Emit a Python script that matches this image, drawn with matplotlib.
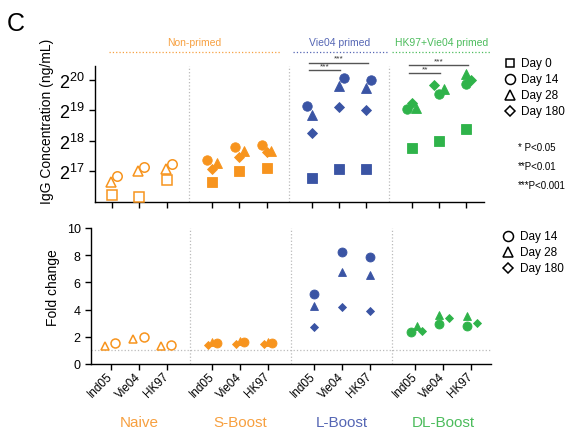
import numpy as np
import matplotlib
matplotlib.use("Agg")
import matplotlib.pyplot as plt
from matplotlib import font_manager
from matplotlib.lines import Line2D
from matplotlib.transforms import ScaledTranslation

plt.rcParams["font.family"] = ["Liberation Sans", "DejaVu Sans"]
plt.rcParams["mathtext.default"] = "regular"

nan = np.nan

strains = ["Ind05", "Vie04", "HK97"]
groups = ["Naive", "S-Boost", "L-Boost", "DL-Boost"]
group_colors = ["#F7941E", "#F7941E", "#3A54A4", "#2FB34A"]
label_colors = ["#F7A040", "#F7A040", "#5566B4", "#4CBC5C"]
filled = [False, True, True, True]

# IgG concentration (ng/mL), rows = groups, columns = strains
igg_day0 = [[76350, 72700, 107200],
            [102100, 133800, 140500],
            [114100, 137600, 137600],
            [225100, 258500, 346000]]
igg_day14 = [[117300, 146400, 156900],
             [168200, 229800, 236300],
             [582000, 1092600, 1048600],
             [542600, 762300, 958400]]
igg_day28 = [[102100, 133800, 137600],
             [160300, 210000, 210000],
             [475800, 912800, 875600],
             [554200, 852000, 1196400]]
igg_day180 = [[nan, nan, nan],
              [137600, 180400, 205700],
              [316100, 569900, 531600],
              [623400, 932200, 1048600]]

# fold change vs day 0
fold_day14 = [[1.52, 2.00, 1.40],
              [1.55, 1.60, 1.55],
              [5.15, 8.21, 7.87],
              [2.35, 2.92, 2.77]]
fold_day28 = [[1.35, 1.84, 1.30],
              [1.65, 1.72, 1.60],
              [4.24, 6.79, 6.54],
              [2.77, 3.60, 3.50]]
fold_day180 = [[nan, nan, nan],
               [1.40, 1.45, 1.50],
               [2.75, 4.19, 3.90],
               [2.43, 3.36, 3.01]]

# significance brackets: (group, strain from, strain to, stars)
sig_group = [2, 2, 3, 3]
sig_to = [1, 2, 1, 2]
sig_stars = ["***", "***", "**", "***"]
sig_level = [1300000, 1545000, 1223000, 1472000]

priming = ["Non-primed", "Vie04 primed", "HK97+Vie04 primed"]
priming_colors = ["#F7A040", "#5566B4", "#4CBC5C"]

# ---- layout (scatter offsets, like the prism column scatter) ----
GAP = 3.65
top_off = {
    "d0": [[0, 0, 0]] * 4,
    "d14": [[0.18, 0.18, 0.18], [-0.17, -0.17, -0.17], [-0.18, 0.18, 0.18], [-0.18, 0, 0]],
    "d28": [[-0.03, -0.03, -0.03], [0.18, 0.18, 0.18], [0, 0, 0], [0.15, 0.18, 0]],
    "d180": [[0, 0, 0], [0, 0, 0], [0, 0, 0], [0, -0.18, 0.18]],
}
bot_off = {
    "d14": [[0.15, 0.18, 0.15], [0.15, 0.15, 0.15], [0, 0, 0], [-0.15, -0.15, -0.15]],
    "d28": [[-0.2, -0.2, -0.2], [0, 0, 0], [0, 0, 0], [0.04, -0.15, -0.15]],
    "d180": [[-0.15] * 3, [-0.15] * 3, [0, 0, 0], [0.22, 0.22, 0.22]],
}
marker_style = {"d0": ("s", 7.2), "d14": ("o", 6.8), "d28": ("^", 6.8), "d180": ("D", 4.6)}


def xpos(g):
    return g * GAP + np.arange(3)


def scatter(ax, key, data, offsets, scale=1.0):
    m, ms = marker_style[key]
    for g in range(4):
        x = xpos(g) + np.array(offsets[g])
        y = np.array(data[g], dtype=float)
        c = group_colors[g]
        ax.plot(x, y, ls="none", marker=m, ms=ms * scale,
                mfc=c if filled[g] else "white", mec=c,
                mew=0.6 if filled[g] else 1.1, zorder=3)


fig = plt.figure(figsize=(5.66, 4.35), dpi=100)
W, H = 566, 435
ax1 = fig.add_axes([95 / W, 1 - 203 / H, 389 / W, 136 / H])
ax2 = fig.add_axes([91 / W, 1 - 365 / H, 400 / W, 136 / H])

all_x = np.concatenate([xpos(g) for g in range(4)])
seps = [2 + (GAP - 2) / 2 + g * GAP for g in range(3)]

# ---- top panel ----
scatter(ax1, "d0", igg_day0, top_off["d0"])
scatter(ax1, "d180", igg_day180, top_off["d180"])
scatter(ax1, "d28", igg_day28, top_off["d28"])
scatter(ax1, "d14", igg_day14, top_off["d14"])
ax1.set_yscale("log", base=2)
ax1.set_ylim(2 ** 16, 2 ** 20.45)
ax1.set_xlim(-0.62, 13.6)
ax1.set_yticks([2 ** 17, 2 ** 18, 2 ** 19, 2 ** 20])
ax1.set_yticklabels(["$2^{17}$", "$2^{18}$", "$2^{19}$", "$2^{20}$"], fontsize=13)
ax1.yaxis.set_minor_locator(plt.NullLocator())
ax1.set_xticks(all_x)
ax1.set_xticklabels([])
for s in seps:
    ax1.axvline(s, color="#BBBBBB", ls=":", lw=0.9, zorder=1)

for g, j, stars, lev in zip(sig_group, sig_to, sig_stars, sig_level):
    x0 = xpos(g)[0] - 0.08
    x1 = xpos(g)[j] + 0.05
    ax1.plot([x0, x1], [lev, lev], color="#555555", lw=1, clip_on=False)
    ax1.text((x0 + x1) / 2, lev * 1.02, stars, ha="center", va="bottom",
             fontsize=6, color="#333333", clip_on=False)

# ---- bottom panel ----
scatter(ax2, "d180", fold_day180, bot_off["d180"], 0.95)
scatter(ax2, "d28", fold_day28, bot_off["d28"], 0.95)
scatter(ax2, "d14", fold_day14, bot_off["d14"], 0.95)
ax2.set_ylim(0, 10)
ax2.set_xlim(-0.72, 13.67)
ax2.set_yticks([0, 2, 4, 6, 8, 10])
ax2.tick_params(axis="y", labelsize=9)
ax2.axhline(1, color="#BBBBBB", ls=":", lw=0.9, zorder=1)
for s in seps:
    ax2.axvline(s, color="#BBBBBB", ls=":", lw=0.9, zorder=1)
ax2.set_xticks(all_x)
ax2.set_xticklabels(strains * 4, rotation=45, ha="right", va="center",
                    rotation_mode="anchor", fontsize=8.5)
shift = ScaledTranslation(9 / 72, -6 / 72, fig.dpi_scale_trans)
for lab in ax2.get_xticklabels():
    lab.set_transform(lab.get_transform() + shift)

for ax in (ax1, ax2):
    ax.spines["top"].set_visible(False)
    ax.spines["right"].set_visible(False)
    ax.spines["left"].set_linewidth(1.0)
    ax.spines["bottom"].set_linewidth(1.0)
    ax.tick_params(direction="out", length=4, width=1)

# group labels below bottom panel
for g in range(4):
    xc = xpos(g)[1]
    ax2.text(xc, -0.426, groups[g], transform=ax2.get_xaxis_transform(),
             ha="center", va="center", fontsize=11, color=label_colors[g])

# axis titles
fig.text(47 / W, 1 - 121 / H, "IgG Concentration (ng/mL)", rotation=90,
         ha="center", va="center", fontsize=10)
fig.text(53 / W, 1 - 288 / H, "Fold change", rotation=90,
         ha="center", va="center", fontsize=10)
fig.text(7 / W, 1 - 31 / H, "C", fontsize=18, ha="left", va="baseline")

# priming headers
hdr = [(109, 280), (293, 387), (392, 491)]
for (a, b), name, c in zip(hdr, priming, priming_colors):
    fig.add_artist(Line2D([a / W, b / W], [1 - 53 / H] * 2, color=c, ls=":",
                          lw=0.9, transform=fig.transFigure))
    fig.text((a + b) / 2 / W, 1 - 43 / H, name, ha="center", va="center",
             fontsize=7.5, color=c)

# legends
leg_top = [("s", 6.2, "Day 0"), ("o", 7.2, "Day 14"), ("^", 7.2, "Day 28"), ("D", 4.8, "Day 180")]
for i, (m, ms, t) in enumerate(leg_top):
    y = 1 - (64 + i * 16) / H
    fig.add_artist(Line2D([510 / W], [y], marker=m, ms=ms, mfc="white", mec="black",
                          mew=1.1, ls="none", transform=fig.transFigure))
    fig.text(521 / W, y, t, ha="left", va="center", fontsize=8.5)
for i, (m, ms, t) in enumerate(leg_top[1:]):
    y = 1 - (237 + i * 16) / H
    fig.add_artist(Line2D([508 / W], [y], marker=m, ms=ms, mfc="white", mec="black",
                          mew=1.1, ls="none", transform=fig.transFigure))
    fig.text(520 / W, y, t, ha="left", va="center", fontsize=8.5)

# p-value key, condensed font if there is one
installed = {f.name for f in font_manager.fontManager.ttflist}
if "Liberation Sans Narrow" in installed:
    p_family, p_size, p_x = "Liberation Sans Narrow", 8.5, 527
else:
    p_family, p_size, p_x = "Liberation Sans", 7, 518
for i, t in enumerate(["* P<0.05", "**P<0.01", "***P<0.001"]):
    fig.text(p_x / W, 1 - (148 + i * 19) / H, t, ha="left", va="center",
             fontsize=p_size, family=p_family)

fig.savefig("out.png", dpi=100)
